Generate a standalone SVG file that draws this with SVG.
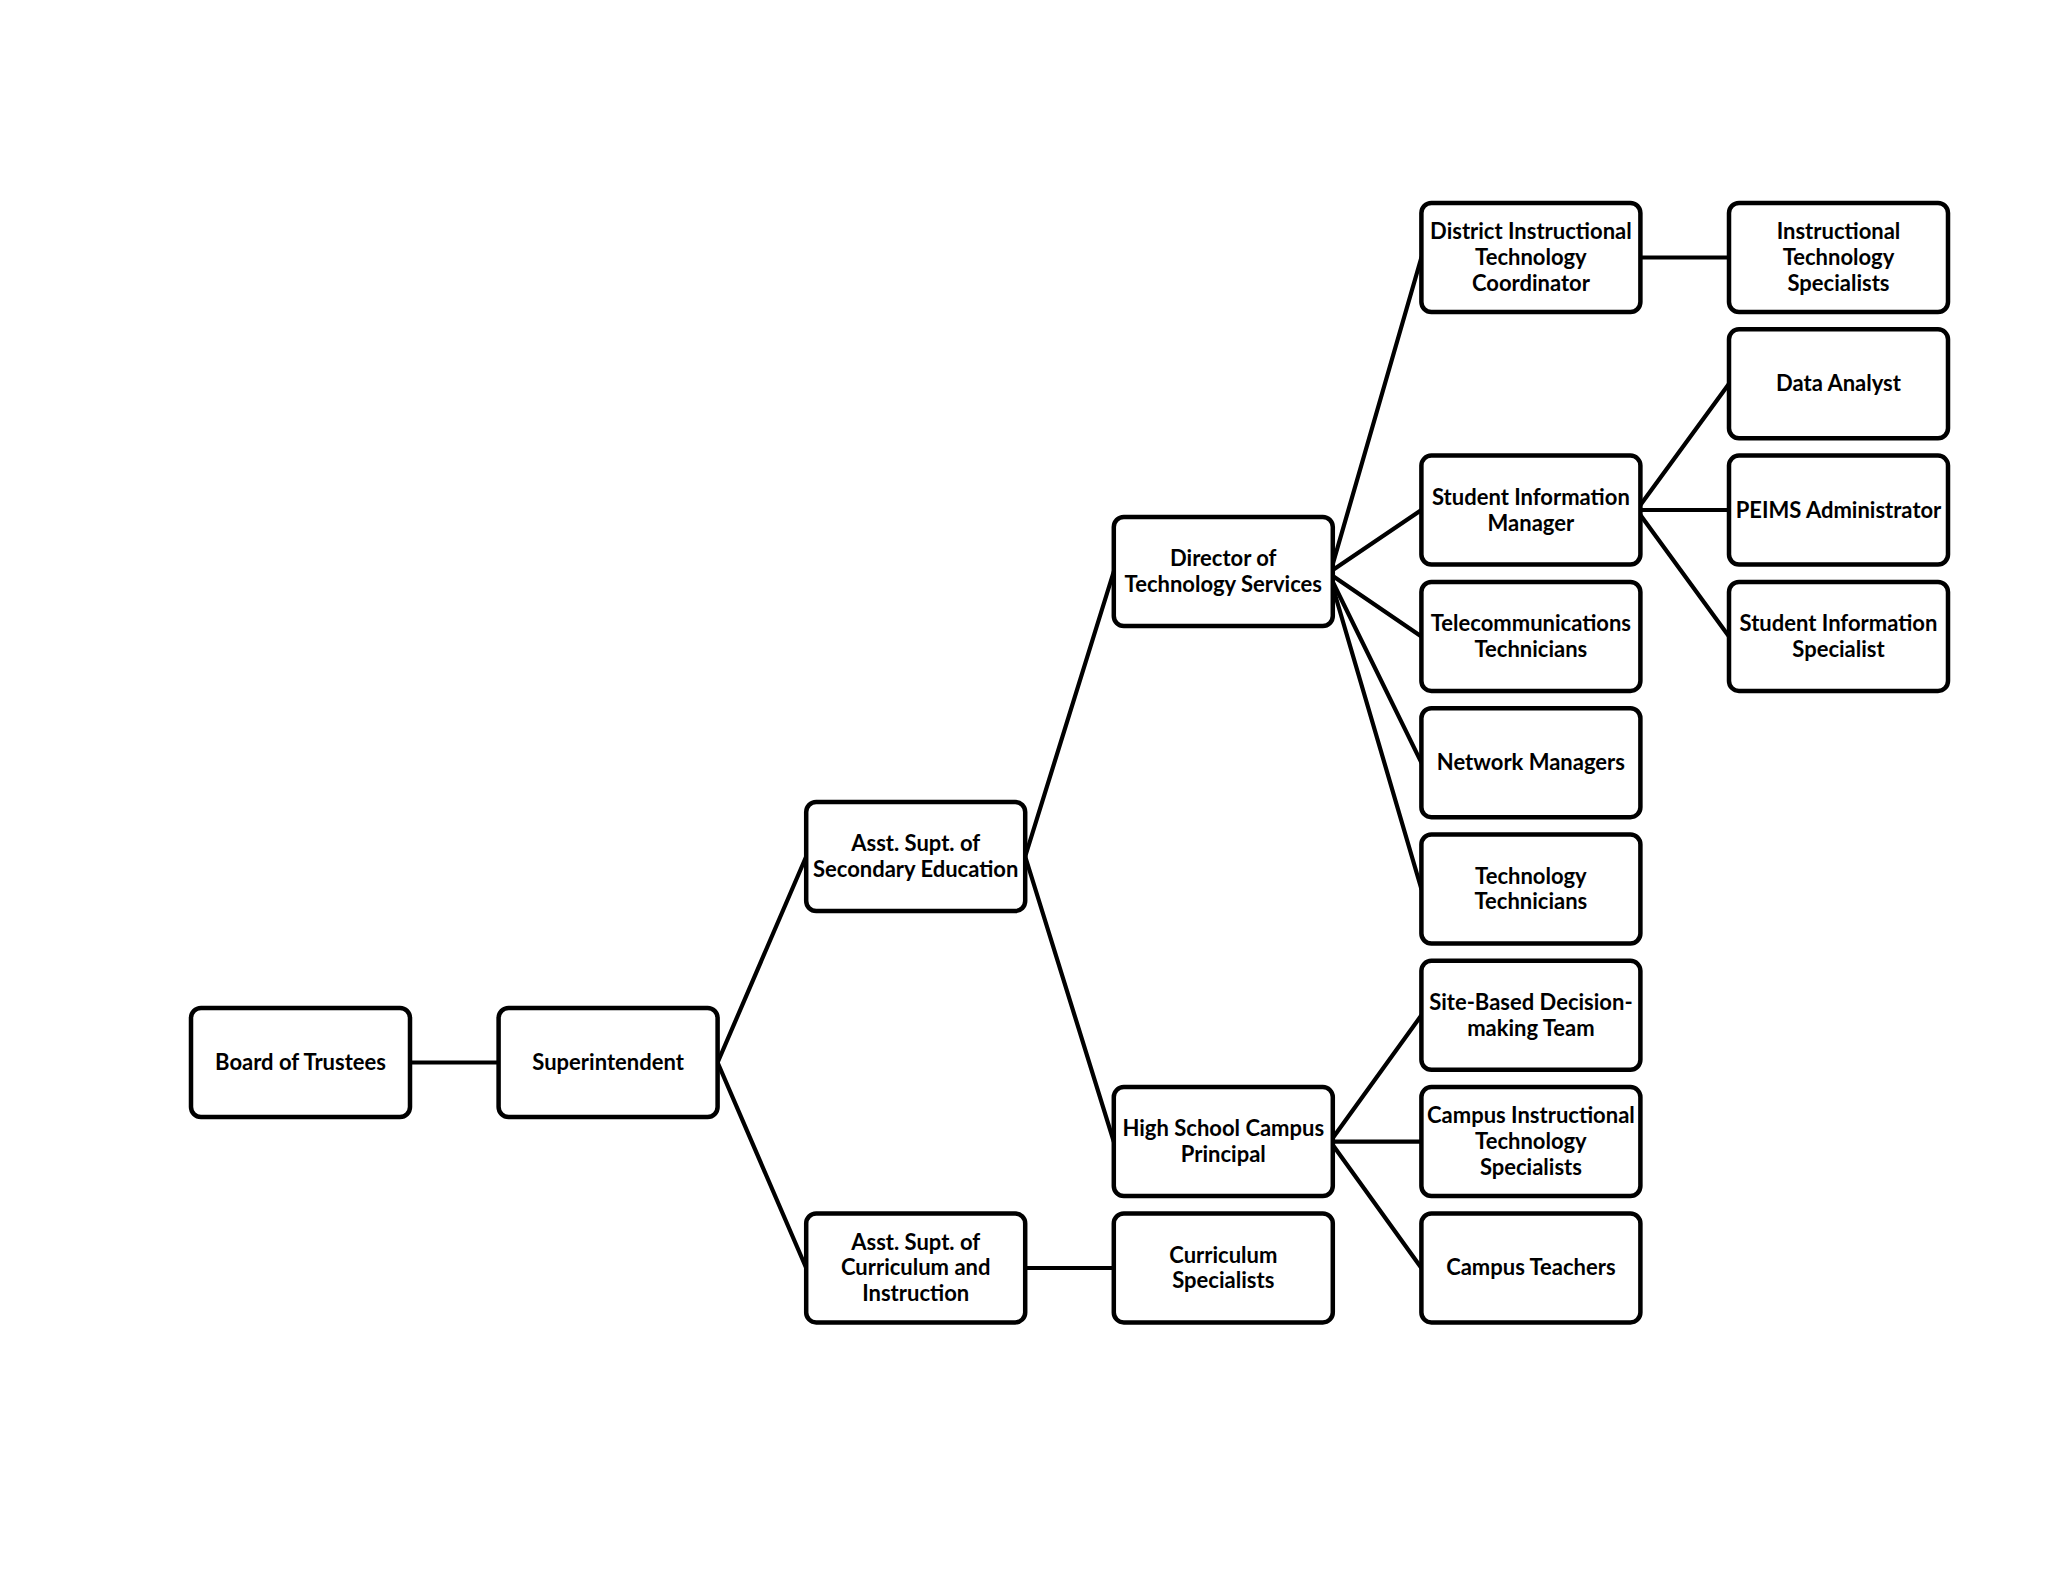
<svg xmlns="http://www.w3.org/2000/svg" width="2048" height="1582" viewBox="0 0 2048 1582">
<style>
.box{fill:#fff;stroke:#000;stroke-width:4.5}
.lbl{font-family:Lato,"Liberation Sans",sans-serif;font-weight:700;font-size:22px;fill:#000;text-anchor:middle}
.conn line{stroke:#000;stroke-width:4.2;stroke-linecap:round}
</style>
<rect width="2048" height="1582" fill="#fff"/>
<g id="connectors" class="conn">
<line x1="410" y1="1062.5" x2="498.6" y2="1062.5"/>
<line x1="717.6" y1="1062.5" x2="806.2" y2="856.5"/>
<line x1="717.6" y1="1062.5" x2="806.2" y2="1268"/>
<line x1="1025.2" y1="856.5" x2="1113.8" y2="571.5"/>
<line x1="1025.2" y1="856.5" x2="1113.8" y2="1141.6"/>
<line x1="1025.2" y1="1268" x2="1113.8" y2="1268"/>
<line x1="1332.8" y1="564" x2="1421.4" y2="257.5"/>
<line x1="1332.8" y1="570" x2="1421.4" y2="510"/>
<line x1="1332.8" y1="576" x2="1421.4" y2="636.4"/>
<line x1="1332.8" y1="582" x2="1421.4" y2="762.7"/>
<line x1="1332.8" y1="587" x2="1421.4" y2="889"/>
<line x1="1640.4" y1="257.5" x2="1729" y2="257.5"/>
<line x1="1640.4" y1="505" x2="1729" y2="383.8"/>
<line x1="1640.4" y1="510" x2="1729" y2="510"/>
<line x1="1640.4" y1="515" x2="1729" y2="636.4"/>
<line x1="1332.8" y1="1138" x2="1421.4" y2="1015.3"/>
<line x1="1332.8" y1="1141.6" x2="1421.4" y2="1141.6"/>
<line x1="1332.8" y1="1145" x2="1421.4" y2="1268"/>
</g>
<g id="board"><rect class="box" x="191" y="1008" width="219" height="109" rx="10"/><text class="lbl" x="300.5" y="1070">Board of Trustees</text></g>
<g id="superintendent"><rect class="box" x="498.6" y="1008" width="219" height="109" rx="10"/><text class="lbl" x="608.1" y="1070">Superintendent</text></g>
<g id="asst-secondary"><rect class="box" x="806.2" y="802" width="219" height="109" rx="10"/><text class="lbl" x="915.7" y="851">Asst. Supt. of</text><text class="lbl" x="915.7" y="876.8">Secondary Education</text></g>
<g id="asst-curriculum"><rect class="box" x="806.2" y="1213.4" width="219" height="109" rx="10"/><text class="lbl" x="915.7" y="1249.6">Asst. Supt. of</text><text class="lbl" x="915.7" y="1275.4">Curriculum and</text><text class="lbl" x="915.7" y="1301.2">Instruction</text></g>
<g id="director"><rect class="box" x="1113.8" y="517" width="219" height="109" rx="10"/><text class="lbl" x="1223.3" y="566">Director of</text><text class="lbl" x="1223.3" y="591.8">Technology Services</text></g>
<g id="high-school"><rect class="box" x="1113.8" y="1087.1" width="219" height="109" rx="10"/><text class="lbl" x="1223.3" y="1136.2">High School Campus</text><text class="lbl" x="1223.3" y="1162">Principal</text></g>
<g id="curriculum-specialists"><rect class="box" x="1113.8" y="1213.4" width="219" height="109" rx="10"/><text class="lbl" x="1223.3" y="1262.5">Curriculum</text><text class="lbl" x="1223.3" y="1288.3">Specialists</text></g>
<g id="district-coordinator"><rect class="box" x="1421.4" y="203" width="219" height="109" rx="10"/><text class="lbl" x="1530.9" y="239.2">District Instructional</text><text class="lbl" x="1530.9" y="265">Technology</text><text class="lbl" x="1530.9" y="290.8">Coordinator</text></g>
<g id="student-info-manager"><rect class="box" x="1421.4" y="455.6" width="219" height="109" rx="10"/><text class="lbl" x="1530.9" y="504.7">Student Information</text><text class="lbl" x="1530.9" y="530.5">Manager</text></g>
<g id="telecom"><rect class="box" x="1421.4" y="581.9" width="219" height="109" rx="10"/><text class="lbl" x="1530.9" y="631">Telecommunications</text><text class="lbl" x="1530.9" y="656.8">Technicians</text></g>
<g id="network"><rect class="box" x="1421.4" y="708.2" width="219" height="109" rx="10"/><text class="lbl" x="1530.9" y="770.2">Network Managers</text></g>
<g id="tech-technicians"><rect class="box" x="1421.4" y="834.5" width="219" height="109" rx="10"/><text class="lbl" x="1530.9" y="883.6">Technology</text><text class="lbl" x="1530.9" y="909.4">Technicians</text></g>
<g id="site-based"><rect class="box" x="1421.4" y="960.8" width="219" height="109" rx="10"/><text class="lbl" x="1530.9" y="1009.9">Site-Based Decision-</text><text class="lbl" x="1530.9" y="1035.7">making Team</text></g>
<g id="campus-its"><rect class="box" x="1421.4" y="1087.1" width="219" height="109" rx="10"/><text class="lbl" x="1530.9" y="1123.3">Campus Instructional</text><text class="lbl" x="1530.9" y="1149.1">Technology</text><text class="lbl" x="1530.9" y="1174.9">Specialists</text></g>
<g id="campus-teachers"><rect class="box" x="1421.4" y="1213.4" width="219" height="109" rx="10"/><text class="lbl" x="1530.9" y="1275.4">Campus Teachers</text></g>
<g id="instructional-tech-specialists"><rect class="box" x="1729" y="203" width="219" height="109" rx="10"/><text class="lbl" x="1838.5" y="239.2">Instructional</text><text class="lbl" x="1838.5" y="265">Technology</text><text class="lbl" x="1838.5" y="290.8">Specialists</text></g>
<g id="data-analyst"><rect class="box" x="1729" y="329.3" width="219" height="109" rx="10"/><text class="lbl" x="1838.5" y="391.3">Data Analyst</text></g>
<g id="peims"><rect class="box" x="1729" y="455.6" width="219" height="109" rx="10"/><text class="lbl" x="1838.5" y="517.6">PEIMS Administrator</text></g>
<g id="student-info-specialist"><rect class="box" x="1729" y="581.9" width="219" height="109" rx="10"/><text class="lbl" x="1838.5" y="631">Student Information</text><text class="lbl" x="1838.5" y="656.8">Specialist</text></g>
</svg>
